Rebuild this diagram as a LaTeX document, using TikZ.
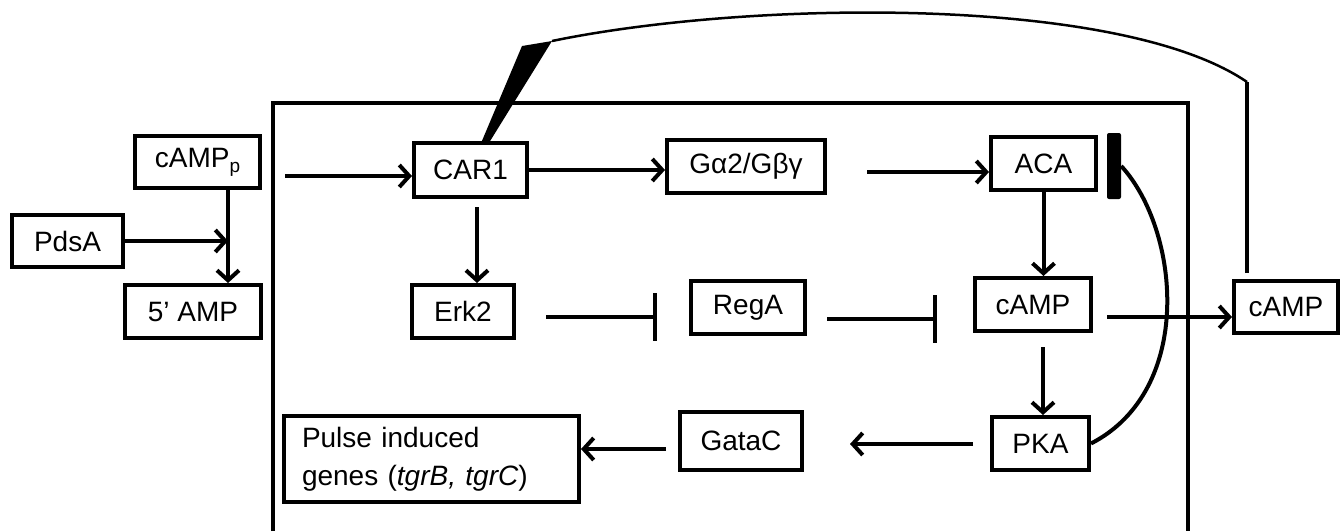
\documentclass[tikz,border=0pt]{standalone}
\usepackage{fontspec}
\setmainfont{Liberation Sans}
\usetikzlibrary{arrows.meta,calc}

\tikzset{
  box/.style={draw, line width=4pt, inner sep=0pt,
    font=\fontsize{28}{38}\selectfont},
  arr/.style={line width=4pt, -{Straight Barb[length=10pt,width=22pt]}},
  inh/.style={line width=4pt, -{Bar[width=48pt]}},
  frame/.style={line width=4pt},
  feedback/.style={line width=2.5pt},
}
\newcommand{\lowsub}[1]{\raisebox{-0.35ex}{\fontsize{19}{19}\selectfont #1}}

\begin{document}
\begin{tikzpicture}[x=1pt, y=-1pt]
\useasboundingbox (0,0) rectangle (1342,531);

% cell outline (open at the bottom)
\draw[frame] (273,531) -- (273,103) -- (1188,103) -- (1188,531);

% outside the cell
\node[box, minimum width=125, minimum height=52] (campp) at (197.5,162) {cAMP\lowsub{p}};
\node[box, minimum width=111, minimum height=52] (pdsa)  at (67.5,241)  {PdsA};
\node[box, minimum width=136, minimum height=53] (amp5)  at (193,311.5) {5’ AMP};
\node[box, minimum width=104, minimum height=52] (campo) at (1286,307)  {cAMP};

% inside the cell
\node[box, minimum width=113, minimum height=54] (car1)  at (470.5,170) {CAR1};
\node[box, minimum width=158, minimum height=53] (g)     at (746,166.5) {Gα2/Gβγ};
\node[box, minimum width=105, minimum height=53] (aca)   at (1043.5,163.5) {ACA};
\node[box, minimum width=102, minimum height=53] (erk2)  at (463,311.5) {Erk2};
\node[box, minimum width=114, minimum height=53] (rega)  at (748,307.5) {RegA};
\node[box, minimum width=116, minimum height=53] (campi) at (1033,304.5) {cAMP};
\node[box, minimum width=97,  minimum height=53] (pka)   at (1040.5,443.5) {PKA};
\node[box, minimum width=122, minimum height=58] (gatac) at (741,441) {GataC};
\node[box, minimum width=295, minimum height=86, text width=259, align=left]
  (pulse) at (431.5,459) {Pulse induced\\genes (\textit{tgrB, tgrC})};

% inhibition bar beside ACA
\node[fill, rounded corners=2pt, minimum width=14, minimum height=66, inner sep=0pt] (acabar) at (1114,166) {};

% free ends of connectors
\coordinate (j)     at (228,241);
\coordinate (inlet) at (285,176);
\coordinate (gout)  at (867,172);
\coordinate (erkin) at (477,207);
\coordinate (e1)    at (546,317);
\coordinate (e2)    at (657,317);
\coordinate (r1)    at (827,319);
\coordinate (r2)    at (937,319);
\coordinate (c2)    at (1043,347);
\coordinate (p1)    at (973,444);
\coordinate (p2)    at (850,444);
\coordinate (g1)    at (666,449);
\coordinate (out)   at (1107,317);
\coordinate (corner) at (1247,82);
\coordinate (wtop)  at (552,41);
\coordinate (wleft) at (522,46);

% degradation of extracellular cAMP
\draw[arr] (campp.south -| j) -- (amp5.north -| j);
\draw[arr] (pdsa.east) -- (j);

% signalling cascade
\draw[arr] (inlet) -- (inlet -| car1.west);
\draw[arr] (car1.east) -- (car1.east -| g.west);
\draw[arr] (gout) -- (gout -| aca.west);
\draw[arr] (erkin) -- (erkin |- erk2.north);
\draw[inh] (e1) -- (e2);
\draw[inh] (r1) -- (r2);
\draw[arr] (aca.south) -- (aca.south |- campi.north);
\draw[arr] (c2) -- (c2 |- pka.north);
\draw[arr] (p1) -- (p2);
\draw[arr] (g1) -- (g1 -| pulse.east);
\draw[arr] (out) -- (out -| campo.west);

% PKA feeds back on ACA
\draw[line width=4pt] (pka.east) .. controls (1195,390) and (1180,230) .. (acabar.east);

% secreted cAMP relays back to CAR1
\draw[line width=4pt] (campo.north -| corner) ++(0,-6) -- (corner);
\draw[feedback] (corner) .. controls (1120,-5) and (750,0) .. (wtop);
\fill ($(car1.north)+(11,1)$) -- (wleft) -- (wtop) -- ($(car1.north)+(19,1)$) -- cycle;
\end{tikzpicture}
\end{document}
